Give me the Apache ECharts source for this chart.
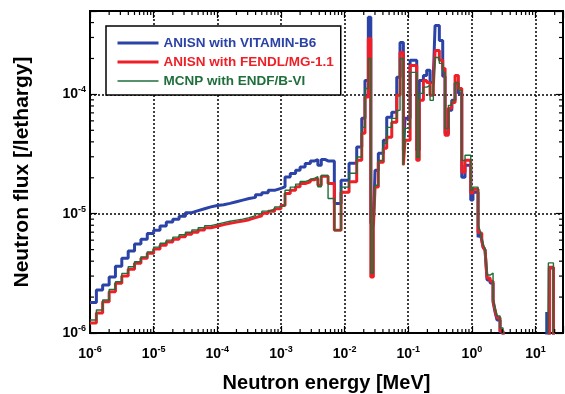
<!DOCTYPE html>
<html>
<head>
<meta charset="utf-8">
<script src="https://cdn.jsdelivr.net/npm/echarts@6/dist/echarts.min.js"></script>
<style>
  html, body { margin: 0; padding: 0; background: #fff; }
  #chart { width: 565px; height: 394px; }
</style>
</head>
<body>
<div id="chart"></div>
<script>
// Group boundaries of the energy structure [MeV]
const energyEdges = [
  1.00e-6, 1.26e-6, 1.58e-6, 2.00e-6, 2.51e-6, 3.16e-6, 3.98e-6, 5.01e-6, 6.31e-6, 7.94e-6,
  1.00e-5, 1.26e-5, 1.58e-5, 2.00e-5, 2.51e-5, 3.16e-5, 3.98e-5, 5.01e-5, 6.31e-5, 7.94e-5,
  1.00e-4, 1.26e-4, 1.58e-4, 2.00e-4, 2.51e-4, 3.16e-4, 3.98e-4, 5.01e-4, 6.31e-4, 7.94e-4,
  1.00e-3, 1.16e-3, 1.40e-3, 1.70e-3, 2.00e-3, 2.40e-3, 2.90e-3, 3.40e-3, 3.80e-3, 4.30e-3,
  5.00e-3, 5.50e-3, 6.90e-3, 8.80e-3,
  1.175e-2, 1.55e-2, 1.86e-2, 2.09e-2, 2.36e-2, 2.58e-2, 2.83e-2, 3.01e-2, 3.39e-2, 4.06e-2,
  4.59e-2, 5.51e-2, 6.60e-2, 7.43e-2, 8.38e-2, 8.91e-2,
  0.107, 0.136, 0.149, 0.173, 0.195, 0.220, 0.248, 0.264, 0.308, 0.348,
  0.379, 0.427, 0.483, 0.544, 0.613, 0.693, 0.780, 0.959,
  1.04, 1.25, 1.34, 1.43, 1.50, 1.61, 1.73, 1.93, 2.15, 2.31, 2.48, 2.77, 3.09,
  15.0, 15.9, 16.5, 19.1, 30
];

// Flux per unit lethargy in each group
const fluxVitaminB6 = [
  1.80e-6, 2.29e-6, 2.52e-6, 2.94e-6, 3.63e-6, 4.24e-6, 4.86e-6, 5.56e-6, 6.10e-6, 6.82e-6,
  7.28e-6, 7.90e-6, 8.50e-6, 9.00e-6, 9.50e-6, 1.02e-5, 1.06e-5, 1.10e-5, 1.14e-5, 1.17e-5,
  1.19e-5, 1.22e-5, 1.26e-5, 1.30e-5, 1.34e-5, 1.37e-5, 1.44e-5, 1.50e-5, 1.57e-5, 1.63e-5,
  1.68e-5, 2.03e-5, 2.17e-5, 2.31e-5, 2.46e-5, 2.63e-5, 2.77e-5, 2.84e-5, 2.55e-5, 2.84e-5,
  2.77e-5, 2.77e-5, 1.22e-5, 1.91e-5,
  2.65e-5, 3.62e-5, 6.30e-5, 1.31e-4, 4.44e-4, 8.33e-6, 8.33e-6, 2.31e-5, 3.21e-5, 4.12e-5,
  6.42e-5, 7.07e-5, 1.39e-4, 2.72e-4, 3.40e-5, 6.30e-5,
  1.93e-4, 3.40e-5, 1.31e-4, 1.44e-4, 1.59e-4, 1.26e-4, 1.44e-4, 3.78e-4, 2.83e-4, 1.42e-4,
  4.72e-5, 7.35e-5, 8.91e-5, 1.24e-4, 1.02e-4, 2.02e-5, 2.55e-5, 1.30e-5,
  1.51e-5, 6.36e-6, 6.87e-6, 6.00e-6, 5.25e-6, 4.95e-6, 2.78e-6, 2.62e-6, 1.82e-6, 1.50e-6,
  1.285e-6, 1.02e-6, 1e-8,
  1.50e-6, 1e-8, 3.50e-6, 1e-8
];

const fluxFendl = [
  1.21e-6, 1.47e-6, 1.83e-6, 2.22e-6, 2.61e-6, 3.00e-6, 3.43e-6, 3.85e-6, 4.24e-6, 4.67e-6,
  5.05e-6, 5.45e-6, 5.78e-6, 6.12e-6, 6.40e-6, 6.73e-6, 7.00e-6, 7.30e-6, 7.63e-6, 7.86e-6,
  8.10e-6, 8.30e-6, 8.50e-6, 8.67e-6, 8.91e-6, 9.26e-6, 9.62e-6, 1.01e-5, 1.05e-5, 1.10e-5,
  1.17e-5, 1.48e-5, 1.57e-5, 1.68e-5, 1.79e-5, 1.85e-5, 1.93e-5, 1.97e-5, 1.73e-5, 2.06e-5,
  2.06e-5, 1.79e-5, 7.28e-6, 1.51e-5,
  1.85e-5, 2.80e-5, 4.72e-5, 9.49e-5, 2.94e-4, 2.94e-6, 7.56e-6, 1.67e-5, 2.70e-5, 3.53e-5,
  4.37e-5, 5.83e-5, 9.82e-5, 2.24e-4, 2.55e-5, 4.12e-5,
  1.75e-4, 2.80e-5, 8.91e-5, 1.31e-4, 1.26e-4, 9.82e-5, 1.19e-4, 2.33e-4, 1.93e-4, 1.65e-4,
  4.54e-5, 7.64e-5, 8.57e-5, 1.44e-4, 1.12e-4, 2.22e-5, 2.80e-5, 1.49e-5,
  1.60e-5, 7.00e-6, 6.87e-6, 6.00e-6, 5.25e-6, 4.95e-6, 2.89e-6, 2.72e-6, 1.89e-6, 1.56e-6,
  1.34e-6, 1.04e-6, 1e-8,
  1e-8, 1e-8, 3.55e-6, 1e-8
];

const fluxMcnp = [
  1.285e-6, 1.56e-6, 1.89e-6, 2.32e-6, 2.69e-6, 3.16e-6, 3.59e-6, 3.95e-6, 4.35e-6, 4.79e-6,
  5.25e-6, 5.66e-6, 6.00e-6, 6.36e-6, 6.67e-6, 7.00e-6, 7.30e-6, 7.63e-6, 7.94e-6, 8.17e-6,
  8.41e-6, 8.65e-6, 8.83e-6, 9.00e-6, 9.26e-6, 9.62e-6, 1.00e-5, 1.05e-5, 1.09e-5, 1.14e-5,
  1.18e-5, 1.57e-5, 1.67e-5, 1.77e-5, 1.86e-5, 1.93e-5, 1.99e-5, 2.04e-5, 1.68e-5, 2.09e-5,
  2.09e-5, 1.34e-5, 7.28e-6, 1.67e-5,
  2.18e-5, 2.99e-5, 5.29e-5, 1.12e-4, 2.00e-4, 3.18e-6, 8.01e-6, 1.73e-5, 2.80e-5, 3.89e-5,
  5.29e-5, 6.30e-5, 7.35e-5, 2.00e-4, 2.55e-5, 5.19e-5,
  1.53e-4, 2.97e-5, 1.02e-4, 1.15e-4, 1.19e-4, 8.91e-5, 1.12e-4, 2.04e-4, 1.82e-4, 1.53e-4,
  5.19e-5, 8.09e-5, 8.91e-5, 1.26e-4, 1.08e-4, 2.80e-5, 3.09e-5, 1.57e-5,
  1.67e-5, 8.01e-6, 7.28e-6, 6.24e-6, 5.45e-6, 5.14e-6, 3.06e-6, 3.18e-6, 1.96e-6, 1.62e-6,
  1.39e-6, 1.10e-6, 1e-8,
  1e-8, 3.87e-6, 3.87e-6, 1e-8
];

const seriesNames = ['ANISN with VITAMIN-B6', 'ANISN with FENDL/MG-1.1', 'MCNP with ENDF/B-VI'];
const seriesColors = ['#2b43a6', '#ee1f26', '#1f6e3c'];
const seriesWidths = [3, 3, 1.4];

const X_MIN = 1e-6, X_MAX = 27;
const Y_MIN = 1e-6, Y_MAX = 5e-4;
const FONT = '"Liberation Sans", Arial, sans-serif';

// histogram -> step polyline points: value i spans edges[i]..edges[i+1]
function toSteps(edges, values) {
  const pts = values.map((v, i) => [edges[i], v]);
  pts.push([edges[values.length], values[values.length - 1]]);
  return pts;
}

// minor tick positions (2..9 x 10^n) inside a range
function minorTicks(lo, hi) {
  const out = [];
  for (let e = Math.floor(Math.log10(lo)); e <= Math.ceil(Math.log10(hi)); e++) {
    for (let m = 2; m <= 9; m++) {
      const v = m * Math.pow(10, e);
      if (v > lo && v < hi) out.push(v);
    }
  }
  return out;
}

function decadeLabel(v) {
  const lg = Math.log10(v);
  const e = Math.round(lg);
  if (Math.abs(lg - e) > 1e-6) return '';
  return '{b|10}{s|' + e + '}';
}

const labelRich = {
  b: { fontFamily: FONT, fontWeight: 'bold', fontSize: 14, color: '#000' },
  s: { fontFamily: FONT, fontWeight: 'bold', fontSize: 9, color: '#000', verticalAlign: 'bottom', padding: [0, 0, 9, 0] }
};

const chart = echarts.init(document.getElementById('chart'), null, { renderer: 'canvas' });

const lineSeries = [fluxVitaminB6, fluxFendl, fluxMcnp].map((vals, i) => ({
  name: seriesNames[i],
  type: 'line',
  xAxisIndex: 0,
  yAxisIndex: 0,
  step: 'end',
  symbol: 'none',
  clip: true,
  z: 3 + i,
  lineStyle: { color: seriesColors[i], width: seriesWidths[i] },
  itemStyle: { color: seriesColors[i] },
  data: toSteps(energyEdges, vals)
}));

const TICK_MINOR = 4;

const xMinorSeries = {
  type: 'custom',
  silent: true,
  xAxisIndex: 0,
  yAxisIndex: 0,
  z: 10,
  data: minorTicks(X_MIN, X_MAX).map(v => [v, Y_MIN]),
  renderItem: function (params, api) {
    const b = api.coord([api.value(0), Y_MIN]);
    const t = api.coord([api.value(0), Y_MAX]);
    const style = { stroke: '#000', lineWidth: 1.2 };
    return {
      type: 'group',
      children: [
        { type: 'line', shape: { x1: b[0], y1: b[1], x2: b[0], y2: b[1] - TICK_MINOR }, style: style },
        { type: 'line', shape: { x1: t[0], y1: t[1], x2: t[0], y2: t[1] + TICK_MINOR }, style: style }
      ]
    };
  }
};

const yMinorSeries = {
  type: 'custom',
  silent: true,
  xAxisIndex: 0,
  yAxisIndex: 0,
  z: 10,
  data: minorTicks(Y_MIN, Y_MAX).map(v => [X_MIN, v]),
  renderItem: function (params, api) {
    const l = api.coord([X_MIN, api.value(1)]);
    const r = api.coord([X_MAX, api.value(1)]);
    const style = { stroke: '#000', lineWidth: 1.2 };
    return {
      type: 'group',
      children: [
        { type: 'line', shape: { x1: l[0], y1: l[1], x2: l[0] + TICK_MINOR, y2: l[1] }, style: style },
        { type: 'line', shape: { x1: r[0], y1: r[1], x2: r[0] - TICK_MINOR, y2: r[1] }, style: style }
      ]
    };
  }
};

const splitDots = { show: true, lineStyle: { color: '#000', width: 1.5, type: [2, 2] } };

chart.setOption({
  animation: false,
  backgroundColor: '#fff',
  grid: {
    left: 90, right: 2, top: 11, bottom: 61,
    containLabel: false,
    outerBoundsMode: 'none',
    show: true, borderColor: '#000', borderWidth: 2, backgroundColor: 'transparent'
  },
  legend: {
    orient: 'vertical',
    left: 106, top: 26,
    padding: [10, 7, 7, 10],
    itemGap: 5,
    itemWidth: 41,
    itemHeight: 14,
    borderColor: '#000',
    borderWidth: 1.5,
    backgroundColor: '#fff',
    itemStyle: { opacity: 0 },
    textStyle: { fontFamily: FONT, fontWeight: 'bold', fontSize: 13.5 },
    data: seriesNames.map((n, i) => ({
      name: n,
      textStyle: { color: seriesColors[i] },
      lineStyle: { color: seriesColors[i], width: seriesWidths[i] }
    }))
  },
  xAxis: [{
    type: 'log', logBase: 10, min: X_MIN, max: X_MAX,
    name: 'Neutron energy [MeV]', nameLocation: 'middle', nameGap: 40,
    nameTextStyle: { fontFamily: FONT, fontWeight: 'bold', fontSize: 20, color: '#000' },
    axisLine: { show: true, lineStyle: { color: '#000', width: 2 } },
    axisTick: { show: true, inside: true, length: 7, lineStyle: { color: '#000', width: 1.2 } },
    axisLabel: { margin: 12, formatter: decadeLabel, rich: labelRich },
    splitLine: splitDots
  }, {
    type: 'log', logBase: 10, min: X_MIN, max: X_MAX, position: 'top',
    axisLine: { show: true, lineStyle: { color: '#000', width: 2 } },
    axisTick: { show: true, inside: true, length: 7, lineStyle: { color: '#000', width: 1.2 } },
    axisLabel: { show: false },
    splitLine: { show: false }
  }],
  yAxis: [{
    type: 'log', logBase: 10, min: Y_MIN, max: Y_MAX,
    name: 'Neutron flux [/lethargy]', nameLocation: 'middle', nameGap: 57,
    nameTextStyle: { fontFamily: FONT, fontWeight: 'bold', fontSize: 21, color: '#000' },
    axisLine: { show: true, lineStyle: { color: '#000', width: 2 } },
    axisTick: { show: true, inside: true, length: 7, lineStyle: { color: '#000', width: 1.2 } },
    axisLabel: { margin: 4, formatter: decadeLabel, rich: labelRich },
    splitLine: splitDots
  }, {
    type: 'log', logBase: 10, min: Y_MIN, max: Y_MAX, position: 'right',
    axisLine: { show: true, lineStyle: { color: '#000', width: 2 } },
    axisTick: { show: true, inside: true, length: 7, lineStyle: { color: '#000', width: 1.2 } },
    axisLabel: { show: false },
    splitLine: { show: false }
  }],
  series: lineSeries.concat([xMinorSeries, yMinorSeries])
});
</script>
</body>
</html>
